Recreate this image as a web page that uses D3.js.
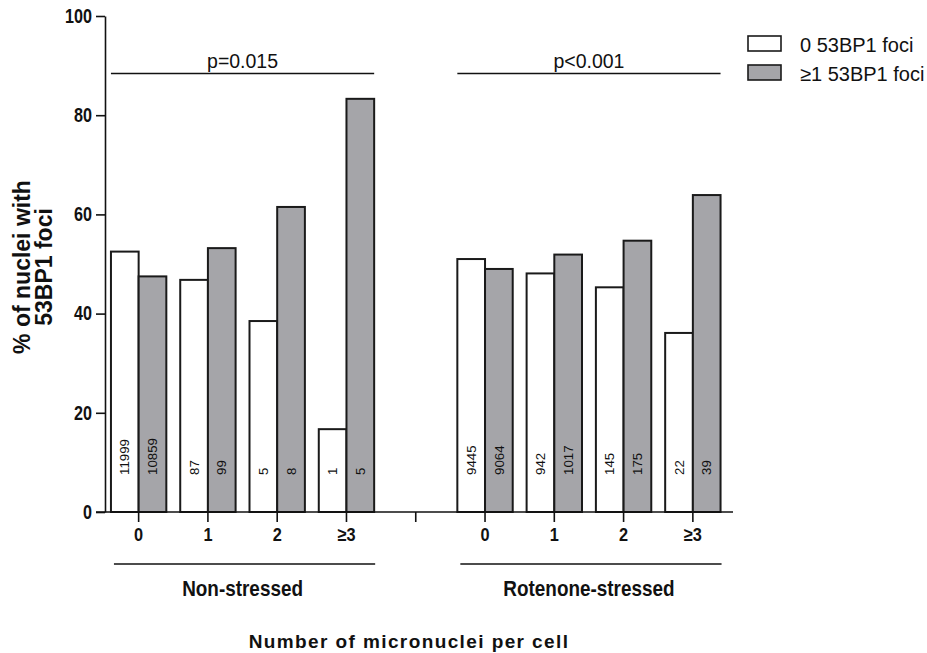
<!DOCTYPE html>
<html>
<head>
<meta charset="utf-8">
<script src="https://cdn.jsdelivr.net/npm/d3@7"></script>
<style>
  body { margin: 0; background: #fff; }
  svg text { font-family: "Liberation Sans", Arial, sans-serif; fill: #111; }
  .bold { font-weight: bold; }
</style>
</head>
<body>
<svg id="chart" width="927" height="653"></svg>
<script>
// Datos
const slots = ["N0", "N1", "N2", "N3", "gap", "R0", "R1", "R2", "R3"];
const tickLabels = ["0", "1", "2", "\u22653", "", "0", "1", "2", "\u22653"];
const groups = ["Non-stressed", "Rotenone-stressed"];
const series = ["0 53BP1 foci", "\u22651 53BP1 foci"];

const zeroFoci = [52.5, 46.8, 38.5, 16.7, null, 51.0, 48.1, 45.3, 36.1];
const oneFoci  = [47.5, 53.2, 61.5, 83.3, null, 49.0, 51.9, 54.7, 63.9];
const zeroCounts = ["11999", "87", "5", "1", null, "9445", "942", "145", "22"];
const oneCounts  = ["10859", "99", "8", "5", null, "9064", "1017", "175", "39"];

const pLabels = ["p=0.015", "p<0.001"];
const yTicks = [0, 20, 40, 60, 80, 100];

const svg = d3.select("#chart");
const fills = ["#ffffff", "#a5a5a9"];
const narrow = 0.83; // la fuente original es condensada

// Escalas
const y = d3.scaleLinear().domain([0, 100]).range([512, 16]);
const x = d3.scaleBand().domain(slots).range([104, 727.5]).padding(0);
const x1 = d3.scaleBand().domain([0, 1]).range([0, x.bandwidth()]).paddingOuter(0.251);

// Eje Y
svg.append("g")
  .attr("transform", "translate(105,0)")
  .call(d3.axisLeft(y).tickValues(yTicks).tickSize(9).tickSizeOuter(0).tickPadding(3))
  .call(g => g.selectAll("path, line").attr("stroke", "#111").attr("stroke-width", 1.6))
  .call(g => g.selectAll("text").attr("class", "bold").attr("font-size", 19.5)
    .attr("font-family", "Liberation Sans, Arial, sans-serif").attr("fill", "#111")
    .attr("x", -13 / narrow).attr("transform", `scale(${narrow},1)`));

// Barras
const rows = slots.map((s, i) => ({ slot: s, vals: [zeroFoci[i], oneFoci[i]], counts: [zeroCounts[i], oneCounts[i]] }))
  .filter(d => d.vals[0] !== null);

const grp = svg.append("g").selectAll("g").data(rows).join("g")
  .attr("transform", d => `translate(${x(d.slot)},0)`);

grp.selectAll("rect")
  .data(d => d.vals.map((v, k) => ({ v, k })))
  .join("rect")
  .attr("x", d => x1(d.k))
  .attr("width", x1.bandwidth())
  .attr("y", d => y(d.v))
  .attr("height", d => y(0) - y(d.v))
  .attr("fill", d => fills[d.k])
  .attr("stroke", "#1a1a1a")
  .attr("stroke-width", 2);

grp.selectAll("text.count")
  .data(d => d.counts.map((c, k) => ({ c, k })))
  .join("text")
  .attr("class", "count")
  .attr("transform", d => `translate(${x1(d.k) + x1.bandwidth() / 2 + 4.7},475) rotate(-90)`)
  .attr("font-size", 13.3)
  .attr("fill", "#222")
  .text(d => d.c);

// Eje X
svg.append("line")
  .attr("x1", 96).attr("x2", 733).attr("y1", y(0)).attr("y2", y(0))
  .attr("stroke", "#111").attr("stroke-width", 1.6);

svg.append("g")
  .attr("transform", `translate(0,${y(0)})`)
  .call(d3.axisBottom(x).tickSize(10).tickSizeOuter(0).tickPadding(6)
    .tickFormat((d, i) => tickLabels[i]))
  .call(g => g.select(".domain").remove())
  .call(g => g.selectAll("line").attr("stroke", "#111").attr("stroke-width", 1.6))
  .call(g => g.selectAll("text").attr("class", "bold").attr("font-size", 19)
    .attr("font-family", "Liberation Sans, Arial, sans-serif").attr("fill", "#111")
    .attr("transform", "scale(0.86,1)"));

// Lineas de grupo y valores p
const groupSlots = [["N0", "N3"], ["R0", "R3"]];
groupSlots.forEach((gs, i) => {
  const left = x(gs[0]) + x1(0);
  const right = x(gs[1]) + x1(1) + x1.bandwidth();
  const mid = (left + right) / 2;
  svg.append("line").attr("x1", left).attr("x2", right).attr("y1", 73.5).attr("y2", 73.5)
    .attr("stroke", "#111").attr("stroke-width", 1.6);
  svg.append("text").attr("x", mid).attr("y", 68).attr("text-anchor", "middle")
    .attr("font-size", 19.5).text(pLabels[i]);
  svg.append("line").attr("x1", left + 3).attr("x2", right + 1).attr("y1", 564).attr("y2", 564)
    .attr("stroke", "#111").attr("stroke-width", 1.6);
  svg.append("text").attr("class", "bold").attr("text-anchor", "middle")
    .attr("transform", `translate(${mid},596) scale(0.86,1)`)
    .attr("font-size", 22).text(groups[i]);
});

// Titulos de ejes
svg.append("text").attr("class", "bold").attr("x", 409).attr("y", 648).attr("text-anchor", "middle")
  .attr("font-size", 19).attr("letter-spacing", 1.4).text("Number of micronuclei per cell");

const yt = svg.append("text").attr("class", "bold").attr("font-size", 23)
  .attr("text-anchor", "middle").attr("transform", "translate(29.5,267) rotate(-90)");
yt.append("tspan").attr("x", 0).attr("y", 0).text("% of nuclei with");
yt.append("tspan").attr("x", 0).attr("y", 22).text("53BP1 foci");

// Leyenda
const leg = svg.append("g").attr("transform", "translate(748,36)");
series.forEach((s, i) => {
  leg.append("rect").attr("x", 0).attr("y", i * 29).attr("width", 33).attr("height", 15)
    .attr("fill", fills[i]).attr("stroke", "#1a1a1a").attr("stroke-width", 1.6);
  leg.append("text").attr("x", 52).attr("y", i * 29 + 15.5).attr("font-size", 20).text(s);
});
</script>
</body>
</html>
